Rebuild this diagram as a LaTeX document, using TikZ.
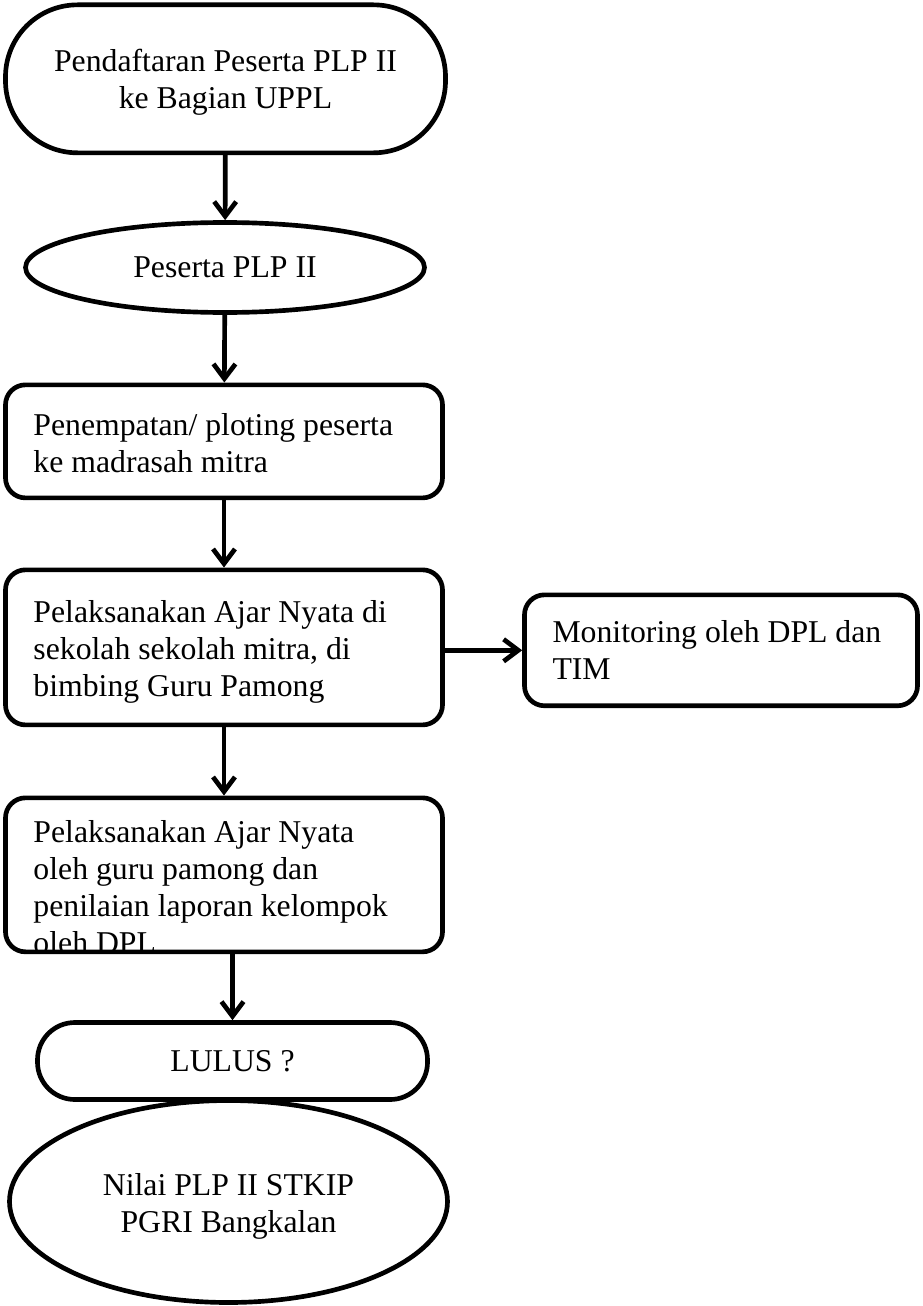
\documentclass[tikz,border=0pt]{standalone}
\usepackage{fontspec}
\setmainfont{Liberation Serif}
\usetikzlibrary{arrows.meta,%
	shapes.geometric}

\begin{document}
\begin{tikzpicture}[x=0.75pt,y=-0.75pt,
	every node/.style={font=\fontsize{23.8}{27.75}\selectfont},
	start_node/.style={rectangle,draw,line width=3.5pt,align=flush center,inner sep=0pt},
	oval_node/.style={ellipse,draw,line width=3.5pt,align=flush center,inner sep=0pt},
	box_node/.style={rectangle,rounded corners=15pt,draw,line width=3.5pt,align=flush left,inner xsep=21pt,inner ysep=0pt,anchor=north},
	flow_arrow/.style={line width=3.5pt,-{Straight Barb[length=11pt,width=16.5pt]}}]

		\useasboundingbox (0,0) rectangle (923,1306);

		\node[start_node,rounded corners=54pt,anchor=north,text width=330pt,text height=49.9pt,text depth=61.1pt] (1) at (225.5,2.5) {Pendaftaran Peserta PLP II\\ke Bagian UPPL};
		\node[oval_node,minimum width=299.25pt,minimum height=67.5pt] (2) at (225,267.5) {Peserta PLP II};
		\node[box_node,text width=285.75pt,text height=37.9pt,text depth=46.9pt] (3) at (224,382.5) {Penempatan/ ploting peserta\\ke madrasah mitra};
		\node[box_node,text width=285.75pt,text height=39.4pt,text depth=76.9pt] (4) at (224,567.5) {Pelaksanakan Ajar Nyata di\\sekolah sekolah mitra, di\\bimbing Guru Pamong};
		\node[box_node,text width=252.75pt,text height=35.6pt,text depth=47.6pt] (5) at (721,592.5) {Monitoring oleh DPL dan\\TIM};
		\node[box_node,text width=285.75pt,text height=33.4pt,text depth=82.1pt] (6) at (224,795.5) {Pelaksanakan Ajar Nyata\\oleh guru pamong dan\\penilaian laporan kelompok\\oleh DPL};
		\node[start_node,rounded corners=28pt,minimum width=292.5pt,minimum height=57.75pt] (7) at (232.5,1061) {LULUS ?};
		\node[oval_node,text width=200pt,text height=24pt,minimum width=328.5pt,minimum height=151.5pt] (8) at (228.5,1201.5) {Nilai PLP II STKIP\\PGRI Bangkalan};

		\draw[flow_arrow] (1) -- (2);
		\draw[flow_arrow] (2) -- (3);
		\draw[flow_arrow] (3) -- (4);
		\draw[flow_arrow] (4.east |- 5) -- (5);
		\draw[flow_arrow] (4) -- (6);
		\draw[flow_arrow] (6.south -| 7.north) -- (7);
		\end{tikzpicture}
\end{document}
